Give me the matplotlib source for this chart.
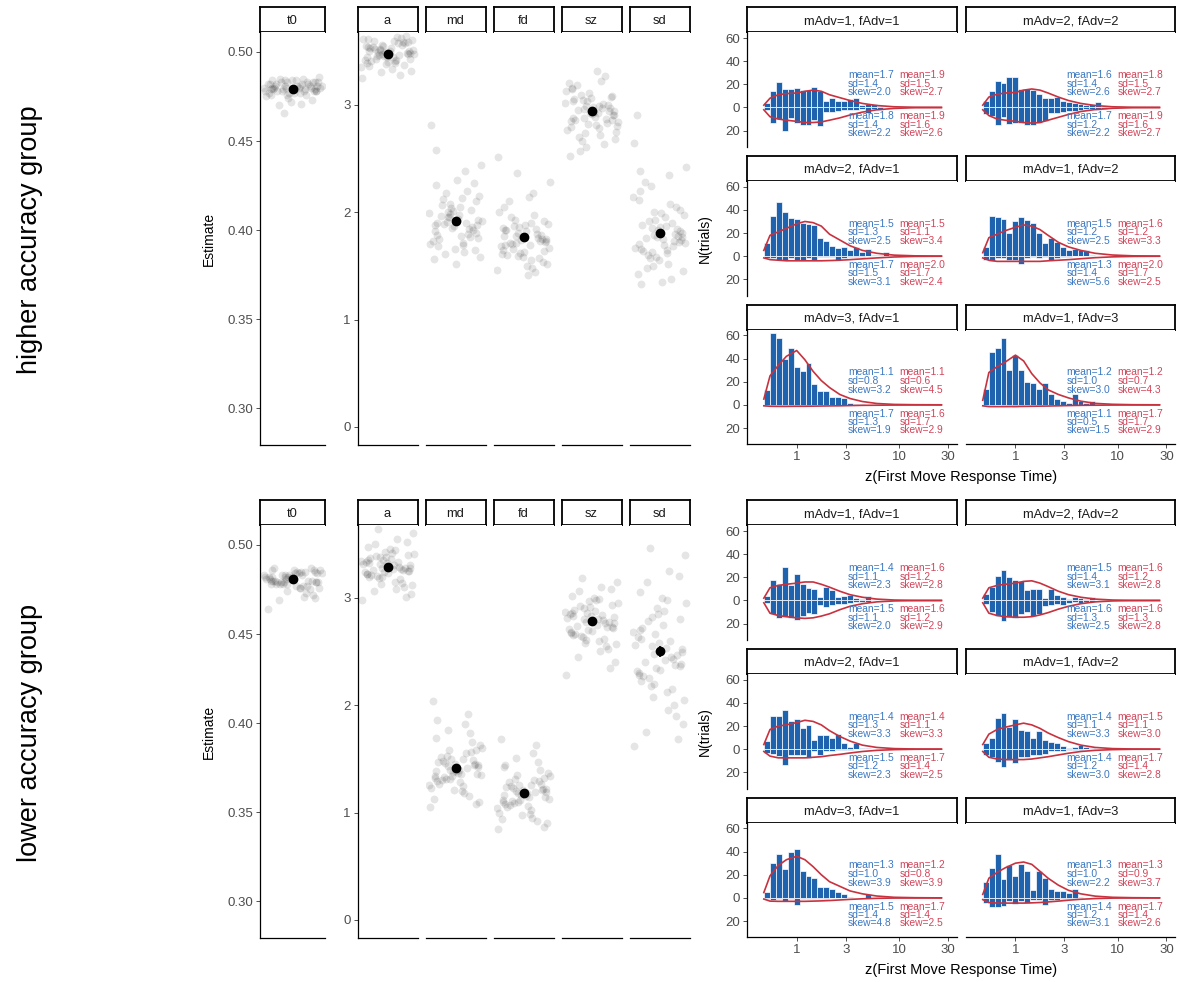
import numpy as np
import matplotlib
matplotlib.use("Agg")
import matplotlib.pyplot as plt

plt.rcParams['font.family'] = ['Liberation Sans', 'DejaVu Sans']

W, H = 1180, 982
BAR = '#1F62AE'
RED = '#C8323F'
TXT_BLUE = '#3B78C2'
TXT_RED = '#D2455A'
TICK_LBL = '#4D4D4D'

# ---------------- parameter estimates (left block) ----------------
params = ['t0', 'a', 'md', 'fd', 'sz', 'sd']
group_names = ['higher accuracy group', 'lower accuracy group']

hi_est = [0.479, 3.47, 1.92, 1.77, 2.94, 1.81]
hi_se = [0.0005, 0.01, 0.02, 0.02, 0.01, 0.02]
lo_est = [0.4807, 3.29, 1.41, 1.18, 2.78, 2.50]
lo_se = [0.0005, 0.01, 0.02, 0.02, 0.02, 0.05]

# per-subject estimates, higher accuracy group
hi_t0 = [0.481, 0.479, 0.483, 0.477, 0.480, 0.484, 0.478, 0.482, 0.476, 0.479, 0.481, 0.485, 0.474, 0.480, 0.483,
         0.478, 0.477, 0.481, 0.486, 0.479, 0.472, 0.482, 0.480, 0.476, 0.484, 0.478, 0.481, 0.483, 0.479, 0.470,
         0.480, 0.482, 0.477, 0.485, 0.478, 0.481, 0.479, 0.483, 0.475, 0.480, 0.484, 0.478, 0.482, 0.473, 0.481,
         0.479, 0.477, 0.483, 0.480, 0.466, 0.482, 0.478, 0.481, 0.484, 0.476, 0.479, 0.471, 0.483, 0.480, 0.478]
hi_a = [3.52, 3.44, 3.58, 3.39, 3.47, 3.61, 3.50, 3.42, 3.55, 3.36, 3.48, 3.63, 3.45, 3.53, 3.31, 3.57, 3.49, 3.41,
        3.60, 3.46, 3.38, 3.54, 3.51, 3.28, 3.44, 3.59, 3.47, 3.62, 3.40, 3.52, 3.35, 3.56, 3.48, 3.43, 3.25, 3.58,
        3.50, 3.45, 3.61, 3.37, 3.53, 3.49, 3.42, 3.57, 3.33, 3.46, 3.55, 3.64, 3.44, 3.51, 3.39, 3.48, 3.59, 3.30,
        3.54, 3.47, 3.41, 3.56, 3.50, 3.43]
hi_md = [1.95, 1.82, 2.10, 1.71, 1.98, 2.25, 1.88, 1.63, 2.04, 1.79, 1.93, 2.38, 1.85, 1.68, 2.15, 1.90, 2.01, 1.75,
         1.58, 2.20, 1.87, 1.96, 2.44, 1.80, 1.66, 2.07, 1.92, 1.84, 1.52, 2.12, 1.99, 1.77, 2.30, 1.89, 1.70, 2.02,
         1.94, 1.61, 2.81, 1.86, 1.97, 2.18, 1.73, 1.83, 2.05, 1.91, 1.56, 2.27, 1.78, 2.00, 1.88, 1.65, 2.13, 1.95,
         2.58, 1.81, 1.69, 2.08, 1.90, 1.76]
hi_fd = [1.78, 1.65, 1.92, 1.55, 1.81, 2.05, 1.72, 1.48, 1.86, 1.69, 1.75, 2.18, 1.62, 1.83, 1.52, 1.97, 1.74, 1.60,
         1.89, 1.44, 1.77, 2.10, 1.67, 1.84, 1.58, 1.71, 2.28, 1.80, 1.63, 1.95, 1.46, 1.76, 1.88, 1.70, 2.51, 1.57,
         1.82, 1.66, 2.00, 1.73, 1.50, 1.87, 1.68, 1.79, 1.41, 1.93, 1.61, 1.75, 2.14, 1.71, 1.85, 1.54, 1.69, 2.36,
         1.78, 1.64, 1.90, 1.59, 1.83, 1.73]
hi_sz = [2.96, 2.85, 3.08, 2.78, 2.99, 3.15, 2.90, 2.72, 3.03, 2.88, 2.94, 3.22, 2.82, 3.05, 2.68, 2.97, 3.11, 2.86,
         2.75, 3.01, 2.92, 3.18, 2.80, 2.63, 3.06, 2.95, 2.84, 3.27, 2.91, 2.70, 3.02, 2.87, 2.98, 2.57, 3.13, 2.83,
         2.93, 3.09, 2.76, 3.00, 2.89, 2.66, 3.20, 2.94, 2.81, 3.04, 2.52, 2.97, 3.31, 2.88, 2.79, 3.07, 2.92, 2.74,
         3.16, 2.86, 2.99, 2.61, 3.03, 2.90]
hi_sd = [1.85, 1.70, 2.02, 1.62, 1.79, 2.20, 1.74, 1.52, 1.93, 1.66, 1.81, 2.35, 1.58, 1.88, 1.45, 2.08, 1.77, 1.64,
         1.97, 1.38, 1.83, 2.28, 1.71, 1.90, 1.55, 1.76, 2.42, 1.68, 1.86, 1.48, 2.14, 1.73, 1.99, 1.60, 2.64, 1.80,
         1.35, 1.92, 1.67, 2.05, 1.75, 1.57, 2.90, 1.84, 1.69, 2.24, 1.42, 1.78, 1.95, 1.63, 2.11, 1.72, 1.87, 1.50,
         2.38, 1.82, 1.65, 2.00, 1.33, 1.77]

# per-subject estimates, lower accuracy group
lo_t0 = [0.482, 0.478, 0.485, 0.476, 0.481, 0.486, 0.479, 0.483, 0.474, 0.480, 0.484, 0.477, 0.482, 0.487, 0.479,
         0.471, 0.483, 0.480, 0.476, 0.485, 0.481, 0.478, 0.486, 0.473, 0.482, 0.479, 0.484, 0.477, 0.481, 0.469,
         0.483, 0.480, 0.486, 0.478, 0.482, 0.475, 0.484, 0.479, 0.481, 0.487, 0.477, 0.483, 0.464, 0.480, 0.485,
         0.478, 0.482, 0.472, 0.484, 0.479, 0.481, 0.486, 0.476, 0.483, 0.480, 0.470, 0.485, 0.478, 0.482, 0.479]
lo_a = [3.31, 3.22, 3.40, 3.15, 3.28, 3.47, 3.25, 3.08, 3.35, 3.19, 3.30, 3.55, 3.24, 3.37, 3.03, 3.33, 3.43, 3.21,
        3.12, 3.29, 3.38, 3.26, 3.60, 3.17, 3.32, 3.06, 3.41, 3.27, 3.23, 3.50, 3.34, 3.14, 3.29, 3.39, 2.98, 3.26,
        3.45, 3.20, 3.31, 3.10, 3.36, 3.64, 3.24, 3.28, 3.42, 3.18, 3.33, 3.01, 3.27, 3.38, 3.22, 3.52, 3.30, 3.13,
        3.35, 3.25, 3.44, 3.19, 3.32, 3.28]
lo_md = [1.43, 1.32, 1.58, 1.25, 1.40, 1.69, 1.36, 1.18, 1.50, 1.29, 1.44, 1.82, 1.34, 1.47, 1.10, 1.55, 1.38, 1.27,
         1.63, 1.41, 1.21, 1.52, 1.35, 1.92, 1.45, 1.30, 1.60, 1.15, 1.39, 1.48, 1.26, 1.74, 1.42, 1.33, 1.05, 1.56,
         1.37, 1.46, 1.23, 1.66, 1.40, 1.31, 2.04, 1.49, 1.28, 1.53, 1.13, 1.44, 1.36, 1.77, 1.34, 1.45, 1.20, 1.58,
         1.39, 1.08, 1.50, 1.31, 1.86, 1.42]
lo_fd = [1.20, 1.10, 1.32, 1.02, 1.18, 1.42, 1.14, 0.95, 1.26, 1.08, 1.22, 1.55, 1.12, 1.24, 0.90, 1.30, 1.16, 1.05,
         1.37, 1.19, 0.98, 1.28, 1.13, 1.63, 1.21, 1.07, 1.34, 0.92, 1.17, 1.25, 1.04, 1.47, 1.19, 1.11, 0.85, 1.29,
         1.15, 1.23, 1.00, 1.40, 1.18, 1.09, 1.68, 1.27, 1.06, 1.31, 0.94, 1.21, 1.14, 1.51, 1.12, 1.22, 0.99, 1.35,
         1.16, 0.87, 1.26, 1.10, 1.44, 1.19]
lo_sz = [2.80, 2.68, 2.93, 2.60, 2.77, 3.02, 2.72, 2.50, 2.86, 2.65, 2.82, 3.10, 2.70, 2.89, 2.40, 2.84, 2.97, 2.66,
         2.57, 2.79, 2.91, 2.74, 3.15, 2.62, 2.83, 2.45, 2.95, 2.76, 2.69, 3.06, 2.87, 2.55, 2.78, 2.92, 2.28, 2.73,
         3.00, 2.64, 2.81, 2.52, 2.88, 3.18, 2.71, 2.77, 2.98, 2.63, 2.85, 2.35, 2.75, 2.90, 2.67, 3.08, 2.80, 2.58,
         2.86, 2.73, 2.99, 2.61, 2.83, 2.76]
lo_sd = [2.55, 2.30, 2.80, 2.12, 2.48, 3.05, 2.38, 1.95, 2.66, 2.22, 2.52, 3.25, 2.35, 2.72, 1.82, 2.60, 2.90, 2.27,
         2.05, 2.45, 2.85, 2.40, 3.40, 2.15, 2.58, 1.75, 2.95, 2.43, 2.33, 3.15, 2.68, 2.00, 2.50, 2.78, 1.62, 2.37,
         3.00, 2.25, 2.56, 1.90, 2.75, 3.46, 2.32, 2.47, 2.88, 2.18, 2.63, 1.68, 2.42, 2.82, 2.28, 3.20, 2.53, 2.08,
         2.70, 2.36, 2.98, 2.20, 2.62, 2.49]

# ---------------- response time histograms (right block) ----------------
conditions = ['mAdv=1, fAdv=1', 'mAdv=2, fAdv=2', 'mAdv=2, fAdv=1',
              'mAdv=1, fAdv=2', 'mAdv=3, fAdv=1', 'mAdv=1, fAdv=3']
fit_grid = [-0.32, -0.26, -0.18, -0.10, 0.0, 0.08, 0.16, 0.24, 0.32, 0.42, 0.52, 0.64, 0.78, 0.95, 1.15, 1.41]

# counts per log10 bin: upper = one response class, lower = the other (drawn downward)
hi11_up = [4, 14, 22, 16, 16, 17, 15, 15, 18, 14, 6, 8, 6, 6, 7, 8, 2, 3, 3, 1]
hi11_dn = [2, 13, 10, 20, 9, 13, 15, 15, 11, 16, 4, 4, 3, 2, 2, 2, 1, 5, 1, 2]
hi11_fit_up = [2, 8, 11, 12, 12.5, 14, 15, 14, 11, 8.5, 6, 3.5, 1.7, 0.6, 0.2, 0.05]
hi11_fit_dn = [2, 8, 10, 11, 12, 13, 13, 12.5, 11, 9, 6.5, 4, 2, 0.8, 0.2, 0.05]
hi11_stats = [(1.7, 1.4, 2.0), (1.9, 1.5, 2.7), (1.8, 1.4, 2.2), (1.9, 1.6, 2.6)]

hi22_up = [6, 14, 23, 21, 26, 26, 16, 16, 15, 12, 8, 8, 9, 6, 5, 4, 3, 2, 3, 5, 1]
hi22_dn = [6, 7, 15, 8, 14, 13, 13, 15, 15, 13, 12, 5, 5, 4, 3, 3, 2, 1, 1, 2, 1]
hi22_fit_up = [2, 9, 11.5, 12.5, 13, 15, 16, 15, 12.5, 9, 6, 3.5, 1.7, 0.6, 0.2, 0.05]
hi22_fit_dn = [2, 7, 10, 11, 12, 13, 13.5, 13, 11, 8.5, 6, 3.5, 1.8, 0.7, 0.2, 0.05]
hi22_stats = [(1.6, 1.4, 2.6), (1.8, 1.5, 2.7), (1.7, 1.2, 2.2), (1.9, 1.6, 2.7)]

hi21_up = [11, 35, 47, 38, 33, 32, 29, 28, 27, 16, 13, 9, 7, 8, 5, 8, 4, 6, 1, 1, 4, 1]
hi21_dn = [2, 2, 3, 3, 2, 3, 3, 2, 3, 1, 1, 1, 3, 2, 1, 1, 1]
hi21_fit_up = [5, 18, 21, 24, 28, 30, 29, 26, 19, 14, 9, 5, 2.5, 0.9, 0.3, 0.05]
hi21_fit_dn = [1.5, 3, 3.5, 4, 4, 4, 4, 4, 3.8, 3.5, 3, 2.3, 1.5, 0.7, 0.2, 0.05]
hi21_stats = [(1.5, 1.3, 2.5), (1.5, 1.1, 3.4), (1.7, 1.5, 3.1), (2.0, 1.7, 2.4)]

hi12_up = [8, 35, 34, 32, 20, 30, 34, 31, 29, 20, 11, 16, 12, 8, 5, 6, 5, 5, 1]
hi12_dn = [3, 4, 2, 2, 3, 3, 7, 2, 1, 2, 1, 3, 2, 1, 1]
hi12_fit_up = [3, 16, 19, 22, 25, 27, 26, 23, 18, 12, 8, 5, 2.5, 1, 0.3, 0.05]
hi12_fit_dn = [1.5, 3.5, 4.5, 4.5, 4.5, 4.5, 4.5, 4.5, 4, 3.5, 3, 2.2, 1.3, 0.6, 0.2, 0.05]
hi12_stats = [(1.5, 1.2, 2.5), (1.6, 1.2, 3.3), (1.3, 1.4, 5.6), (2.0, 1.7, 2.5)]

hi31_up = [13, 62, 58, 40, 49, 33, 29, 36, 18, 12, 12, 7, 7, 6, 2, 1, 1]
hi31_dn = [1, 1, 1, 1, 1, 1, 1, 1]
hi31_fit_up = [5, 25, 34, 42, 47, 39, 29, 21, 15, 9, 5.5, 2.9, 1.2, 0.4, 0.15, 0.05]
hi31_fit_dn = [0.8, 1.2, 1.3, 1.3, 1.2, 1.2, 1.1, 1, 0.9, 0.8, 0.6, 0.4, 0.3, 0.15, 0.05, 0]
hi31_stats = [(1.1, 0.8, 3.2), (1.1, 0.6, 4.5), (1.7, 1.3, 1.9), (1.6, 1.7, 2.9)]

hi13_up = [14, 46, 49, 58, 30, 43, 30, 20, 19, 14, 19, 9, 5, 3, 2, 9, 3, 2, 3, 0, 0, 1]
hi13_dn = [1, 1, 0, 1, 1, 2, 1]
hi13_fit_up = [4, 28, 33, 37, 43, 38, 27, 19, 13, 9, 6, 3.2, 1.3, 0.5, 0.15, 0.05]
hi13_fit_dn = [0.8, 1.5, 1.5, 1.5, 1.4, 1.3, 1.2, 1.1, 1, 0.8, 0.6, 0.4, 0.3, 0.15, 0.05, 0]
hi13_stats = [(1.2, 1.0, 3.0), (1.2, 0.7, 4.3), (1.1, 0.5, 1.5), (1.7, 1.7, 2.9)]

lo11_up = [4, 18, 14, 29, 13, 23, 14, 11, 10, 3, 12, 9, 3, 4, 5, 2, 1, 4, 1]
lo11_dn = [2, 12, 15, 14, 15, 17, 13, 11, 12, 4, 6, 4, 3, 3, 2, 1, 1, 1]
lo11_fit_up = [2, 11, 13, 14, 15, 16, 16, 14, 11.5, 8, 5, 2.8, 1.2, 0.4, 0.1, 0]
lo11_fit_dn = [2, 11, 13, 14, 15, 15.5, 15, 13.5, 11.5, 8, 5, 2.8, 1.2, 0.4, 0.1, 0]
lo11_stats = [(1.4, 1.1, 2.3), (1.6, 1.2, 2.8), (1.5, 1.1, 2.0), (1.6, 1.2, 2.9)]

lo22_up = [6, 12, 21, 26, 20, 18, 17, 9, 10, 10, 2, 10, 5, 3, 1, 3, 2, 1, 3]
lo22_dn = [3, 10, 13, 18, 14, 15, 12, 10, 13, 12, 5, 4, 3, 4, 2, 1, 2, 1, 1]
lo22_fit_up = [2, 11, 13, 14, 15, 16.5, 17, 15, 12, 8, 5, 2.8, 1.2, 0.4, 0.1, 0]
lo22_fit_dn = [2, 11, 13, 14, 14.5, 14.5, 14, 12.5, 10.5, 7.5, 5, 2.8, 1.2, 0.4, 0.1, 0]
lo22_stats = [(1.5, 1.4, 3.1), (1.6, 1.2, 2.8), (1.6, 1.3, 2.5), (1.6, 1.3, 2.8)]

lo21_up = [7, 29, 29, 34, 24, 26, 18, 21, 8, 12, 12, 10, 13, 5, 2, 5, 1, 1]
lo21_dn = [3, 4, 6, 14, 5, 5, 5, 8, 2, 5, 2, 2, 1, 1, 1]
lo21_fit_up = [4, 17, 20, 21, 23, 25, 24, 21, 16, 11, 7, 3.5, 1.5, 0.5, 0.15, 0]
lo21_fit_dn = [2, 6, 7.5, 7.5, 7.5, 7.5, 7, 6.5, 5.5, 4.5, 3.3, 2, 1, 0.4, 0.1, 0]
lo21_stats = [(1.4, 1.3, 3.3), (1.4, 1.1, 3.3), (1.5, 1.2, 2.3), (1.7, 1.4, 2.5)]

lo12_up = [5, 10, 27, 31, 19, 26, 17, 16, 10, 16, 8, 6, 5, 3, 1, 2, 4, 2, 1]
lo12_dn = [5, 7, 11, 15, 9, 12, 7, 7, 5, 5, 4, 2, 2, 2, 1, 1, 1]
lo12_fit_up = [4, 13, 17, 19, 21, 22.5, 21, 18, 14, 10, 6.5, 3.5, 1.5, 0.5, 0.15, 0]
lo12_fit_dn = [2, 7, 8.5, 9, 9, 9, 8.5, 7.5, 6.5, 5, 3.5, 2, 1, 0.4, 0.1, 0]
lo12_stats = [(1.4, 1.1, 3.3), (1.5, 1.1, 3.0), (1.4, 1.2, 3.0), (1.7, 1.4, 2.8)]

lo31_up = [5, 30, 38, 25, 40, 42, 23, 19, 17, 9, 9, 8, 5, 3, 1, 0, 0, 3]
lo31_dn = [1, 2, 1, 3, 1, 6, 1, 1, 1, 1, 1]
lo31_fit_up = [4.6, 19, 28, 33, 36, 33, 27, 20, 14, 10, 6, 3.5, 1.6, 0.5, 0.15, 0]
lo31_fit_dn = [1, 2.8, 3, 3, 3, 3, 2.8, 2.6, 2.3, 1.8, 1.3, 0.8, 0.4, 0.15, 0.05, 0]
lo31_stats = [(1.3, 1.0, 3.9), (1.2, 0.8, 3.9), (1.5, 1.4, 4.8), (1.7, 1.4, 2.5)]

lo13_up = [14, 26, 38, 16, 28, 19, 29, 23, 7, 23, 17, 8, 6, 6, 4, 8, 1]
lo13_dn = [4, 8, 8, 7, 3, 5, 3, 4, 2, 2, 6, 2, 2, 1, 1, 1]
lo13_fit_up = [3, 17, 22, 26, 30, 31, 29, 23, 17, 11, 6.5, 3.5, 1.5, 0.5, 0.15, 0]
lo13_fit_dn = [1.5, 4, 4.5, 4.5, 4.5, 4.5, 4.3, 4, 3.5, 2.8, 2, 1.2, 0.6, 0.2, 0.05, 0]
lo13_stats = [(1.3, 1.0, 2.2), (1.3, 0.9, 3.7), (1.4, 1.2, 3.1), (1.7, 1.4, 2.6)]

hi_subj = [hi_t0, hi_a, hi_md, hi_fd, hi_sz, hi_sd]
lo_subj = [lo_t0, lo_a, lo_md, lo_fd, lo_sz, lo_sd]
hi_hist = [(hi11_up, hi11_dn, hi11_fit_up, hi11_fit_dn, hi11_stats),
           (hi22_up, hi22_dn, hi22_fit_up, hi22_fit_dn, hi22_stats),
           (hi21_up, hi21_dn, hi21_fit_up, hi21_fit_dn, hi21_stats),
           (hi12_up, hi12_dn, hi12_fit_up, hi12_fit_dn, hi12_stats),
           (hi31_up, hi31_dn, hi31_fit_up, hi31_fit_dn, hi31_stats),
           (hi13_up, hi13_dn, hi13_fit_up, hi13_fit_dn, hi13_stats)]
lo_hist = [(lo11_up, lo11_dn, lo11_fit_up, lo11_fit_dn, lo11_stats),
           (lo22_up, lo22_dn, lo22_fit_up, lo22_fit_dn, lo22_stats),
           (lo21_up, lo21_dn, lo21_fit_up, lo21_fit_dn, lo21_stats),
           (lo12_up, lo12_dn, lo12_fit_up, lo12_fit_dn, lo12_stats),
           (lo31_up, lo31_dn, lo31_fit_up, lo31_fit_dn, lo31_stats),
           (lo13_up, lo13_dn, lo13_fit_up, lo13_fit_dn, lo13_stats)]

edges = np.linspace(-0.32, 1.42, 31)   # shared log10 bins
n_bins = len(edges) - 1

fig = plt.figure(figsize=(W / 100, H / 100), dpi=100)


def px_axes(x0, y0, x1, y1):
    return fig.add_axes([x0 / W, 1 - y1 / H, (x1 - x0) / W, (y1 - y0) / H])


def style_ticks(ax):
    ax.tick_params(direction='out', length=3, width=0.6, color='#333333',
                   labelcolor=TICK_LBL, labelsize=9.5, pad=2)


def strip(x0, x1, y0, y1, label):
    sa = px_axes(x0, y0, x1, y1)
    sa.set_xticks([])
    sa.set_yticks([])
    for sp in sa.spines.values():
        sp.set_linewidth(1.3)
    sa.text(0.5, 0.45, label, ha='center', va='center', fontsize=9.3, color='#1A1A1A',
            transform=sa.transAxes)


def jitter(n):
    # evenly scattered horizontal offsets for the subject points
    return ((np.arange(n) * 0.7548776662 + 0.37) % 1 - 0.5) * 0.9


def fmt(vals):
    m, s, k = vals
    return [f'mean={m:.1f}', f'sd={s:.1f}', f'skew={k:.1f}']


left_x = [(260, 325), (357.5, 417.5), (425.5, 485.5), (493.5, 553.5), (561.5, 621.5), (629.5, 689.5)]
col_x = [(747, 957), (966, 1175)]

for g, (name, subj, est, se, hists) in enumerate(zip(group_names, [hi_subj, lo_subj], [hi_est, lo_est],
                                                      [hi_se, lo_se], [hi_hist, lo_hist])):
    dy = 493 * g

    # --- parameter strip plots ---
    for i, p in enumerate(params):
        x0, x1 = left_x[i]
        strip(x0, x1, 7.3 + dy, 32.3 + dy, p)
        ax = px_axes(x0, 32.3 + dy, x1, 445 + dy)
        vals = np.array(subj[i])
        ax.scatter(jitter(len(vals)), vals, s=32, color='black', alpha=0.1, linewidths=0)
        ax.errorbar([0], [est[i]], yerr=[se[i]], fmt='o', color='black', ms=6, elinewidth=1.2, capsize=0)
        ax.set_xlim(-0.5, 0.5)
        ax.set_xticks([])
        for sp in ['top', 'right']:
            ax.spines[sp].set_visible(False)
        ax.spines['bottom'].set_linewidth(0.9)
        ax.spines['left'].set_linewidth(0.9)
        style_ticks(ax)
        if p == 't0':
            ax.set_ylim(0.2795, 0.511)
            ax.set_yticks([0.30, 0.35, 0.40, 0.45, 0.50])
            ax.set_yticklabels(['0.30', '0.35', '0.40', '0.45', '0.50'])
            ax.set_ylabel('Estimate', fontsize=10, labelpad=8)
        else:
            ax.set_ylim(-0.168, 3.674)
            if p == 'a':
                ax.set_yticks([0, 1, 2, 3])
            else:
                ax.spines['left'].set_visible(False)
                ax.set_yticks([])

    fig.text(30 / W, 1 - (240 + dy) / H, name, rotation=90, ha='center', va='center', fontsize=19.5)

    # --- RT histograms ---
    lo_e = 10 ** edges[:-1]
    wd = 10 ** edges[1:] - lo_e
    for k, (cond, (up, dn, fup, fdn, stats)) in enumerate(zip(conditions, hists)):
        r, c = divmod(k, 2)
        x0, x1 = col_x[c]
        sy = 7.3 + 148.7 * r + dy
        strip(x0, x1, sy, sy + 25, cond)
        ax = px_axes(x0, sy + 25, x1, sy + 139.5)
        up = np.pad(np.array(up, float), (0, n_bins - len(up)))
        dn = np.pad(np.array(dn, float), (0, n_bins - len(dn)))
        ax.bar(lo_e, up, width=wd, align='edge', color=BAR, edgecolor='white', linewidth=0.5)
        ax.bar(lo_e, -dn, width=wd, align='edge', color=BAR, edgecolor='white', linewidth=0.5)
        ax.plot(10 ** np.array(fit_grid), fup, color=RED, lw=1.2)
        ax.plot(10 ** np.array(fit_grid), -np.array(fdn, float), color=RED, lw=1.2)
        ax.set_xscale('log')
        ax.set_xlim(10 ** -0.484, 10 ** 1.562)
        ax.set_ylim(-34, 65)
        for block, xt, col, ys in [(stats[0], 10 ** 0.5, TXT_BLUE, [28, 20.6, 13.2]),
                                   (stats[1], 10 ** 1.0, TXT_RED, [28, 20.6, 13.2]),
                                   (stats[2], 10 ** 0.5, TXT_BLUE, [-7.5, -14.8, -22.1]),
                                   (stats[3], 10 ** 1.0, TXT_RED, [-7.5, -14.8, -22.1])]:
            for line, yv in zip(fmt(block), ys):
                ax.text(xt, yv, line, color=col, fontsize=7.4, ha='left', va='center')
        for sp in ['top', 'right']:
            ax.spines[sp].set_visible(False)
        ax.spines['bottom'].set_linewidth(0.9)
        ax.spines['left'].set_linewidth(0.9)
        style_ticks(ax)
        ax.minorticks_off()
        if c == 0:
            ax.set_yticks([-20, 0, 20, 40, 60])
            ax.set_yticklabels(['20', '0', '20', '40', '60'])
        else:
            ax.spines['left'].set_visible(False)
            ax.set_yticks([])
        if r == 2:
            ax.set_xticks([1, 3, 10, 30])
            ax.set_xticklabels(['1', '3', '10', '30'])
        else:
            ax.spines['bottom'].set_visible(False)
            ax.set_xticks([])

    fig.text(705 / W, 1 - (238.7 + dy) / H, 'N(trials)', rotation=90, ha='center', va='center', fontsize=10)
    fig.text(961 / W, 1 - (477 + dy) / H, 'z(First Move Response Time)', ha='center', va='center', fontsize=10.5)

fig.savefig('out.png', dpi=100)
